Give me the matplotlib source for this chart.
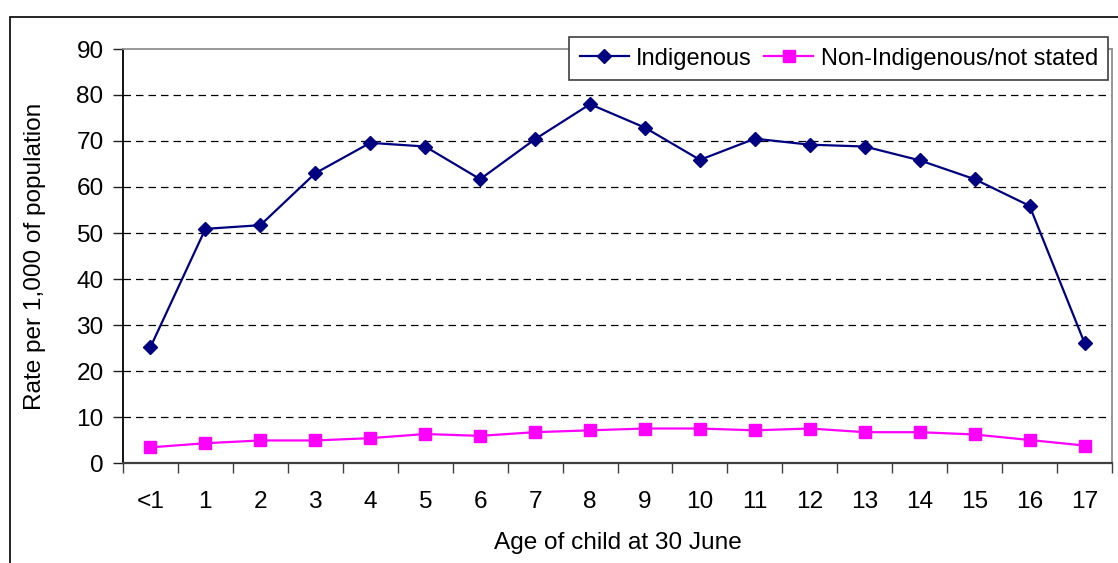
import matplotlib
matplotlib.use("Agg")
import matplotlib.pyplot as plt
from matplotlib.patches import Rectangle

categories = ["<1", "1", "2", "3", "4", "5", "6", "7", "8", "9", "10", "11", "12", "13", "14", "15", "16", "17"]
indigenous = [25.2, 50.9, 51.7, 63.0, 69.6, 68.8, 61.7, 70.4, 78.0, 72.9, 65.9, 70.5, 69.2, 68.8, 65.8, 61.7, 55.9, 26.1]
non_indigenous = [3.4, 4.3, 4.9, 4.9, 5.4, 6.3, 5.9, 6.7, 7.1, 7.5, 7.5, 7.1, 7.5, 6.7, 6.7, 6.2, 5.0, 3.8]
yticks = [0, 10, 20, 30, 40, 50, 60, 70, 80, 90]

plt.rcParams['font.family'] = ['Liberation Sans', 'DejaVu Sans']
FS = 17.6
LFS = 17.0

W, H = 1118, 563
fig = plt.figure(figsize=(W / 100, H / 100), dpi=100)
ax = fig.add_axes([123 / W, 1 - 463 / H, (1112 - 123) / W, (463 - 49) / H])

x = list(range(len(categories)))
ax.plot(x, indigenous, color='#000080', lw=1.6, marker='D', markersize=7,
        label='Indigenous', zorder=3)
ax.plot(x, non_indigenous, color='#FF00FF', lw=1.6, marker='s', markersize=8.3,
        label='Non-Indigenous/not stated', zorder=3)

ax.set_xlim(-0.5, len(categories) - 0.5)
ax.set_ylim(0, 90)
ax.set_yticks(yticks)
ax.set_yticklabels([str(v) for v in yticks], fontsize=FS)
for v in yticks[1:-1]:
    ax.axhline(v, color='black', lw=0.9, ls=(0, (6, 4)), zorder=1)

ax.set_xticks([i - 0.5 for i in range(len(categories) + 1)])
ax.set_xticklabels([])
ax.set_xticks(x, minor=True)
ax.set_xticklabels(categories, minor=True, fontsize=FS)
ax.tick_params(axis='x', which='major', direction='out', length=7, width=1, color='#404040')
ax.tick_params(axis='x', which='minor', length=0, pad=20)
ax.tick_params(axis='y', direction='out', length=7, width=1, color='#202020', pad=7)

ax.spines['left'].set_color('black')
ax.spines['left'].set_linewidth(1.3)
ax.spines['bottom'].set_color('#404040')
ax.spines['bottom'].set_linewidth(1.6)
for s in ['top', 'right']:
    ax.spines[s].set_color('#909090')
    ax.spines[s].set_linewidth(1.3)

ax.set_xlabel('Age of child at 30 June', fontsize=FS, labelpad=14)
ax.set_ylabel('Rate per 1,000 of population', fontsize=FS, labelpad=22)

leg = fig.legend(loc='upper left', bbox_to_anchor=(569 / W, 1 - 37 / H), ncol=2,
                 fontsize=LFS, frameon=True, fancybox=False, shadow=False,
                 handlelength=2.1, handletextpad=0.3, columnspacing=0.5,
                 borderpad=0.45, borderaxespad=0)
leg.get_frame().set_edgecolor('#404040')
leg.get_frame().set_linewidth(1.2)
leg.get_frame().set_alpha(1)

fig.patches.append(Rectangle((10 / W, -0.1), 1.2, 1.1 - 17 / H, transform=fig.transFigure,
                             fill=False, edgecolor='black', lw=1.2))

fig.savefig('out.png', dpi=100)
